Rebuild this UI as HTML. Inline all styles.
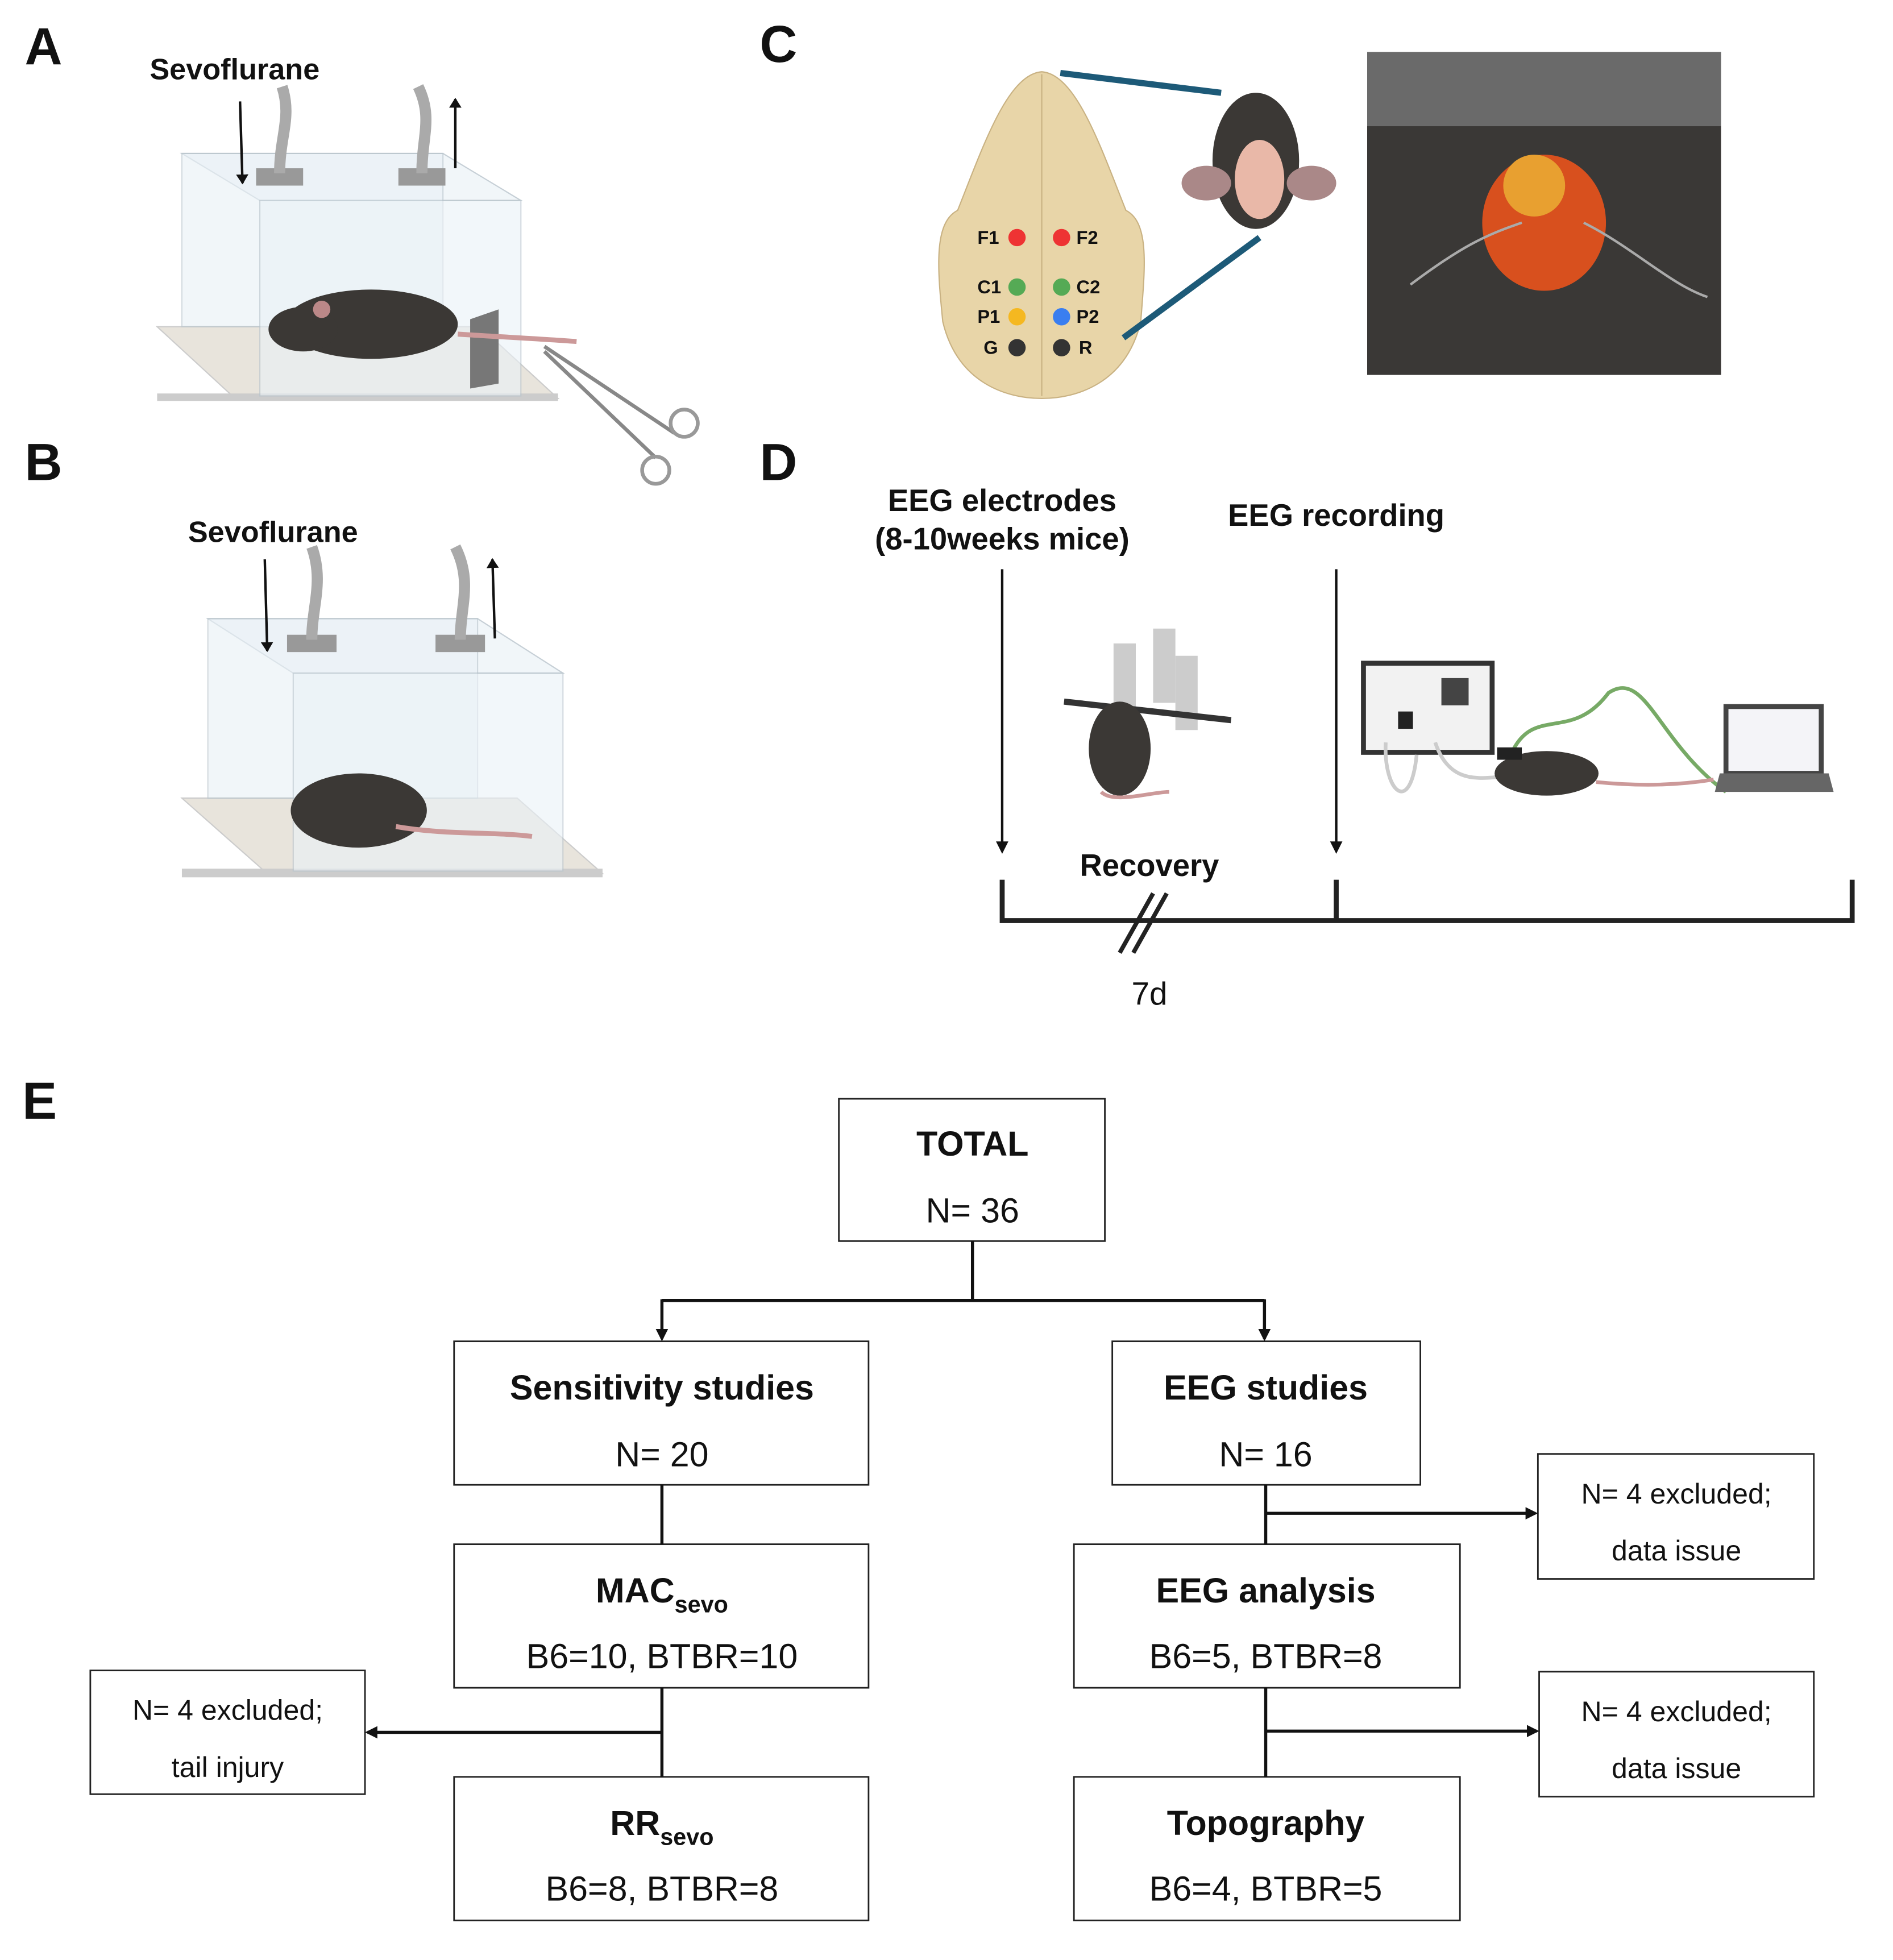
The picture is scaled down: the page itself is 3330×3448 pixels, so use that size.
<!DOCTYPE html>
<html><head><meta charset="utf-8"><style>
html,body{margin:0;padding:0;background:#fff;}
svg{display:block;}
text{font-family:"Liberation Sans",sans-serif;fill:#111;}
.b{font-weight:bold;}
</style></head><body>
<svg width="3330" height="3448" viewBox="0 0 1530 1584" preserveAspectRatio="none" xmlns="http://www.w3.org/2000/svg">
<defs>
<marker id="ar" markerWidth="10" markerHeight="10" refX="8" refY="5" orient="auto" markerUnits="userSpaceOnUse"><path d="M0,0 L10,5 L0,10 z" fill="#111"/></marker>
<marker id="as" markerWidth="8" markerHeight="10" refX="7" refY="5" orient="auto" markerUnits="userSpaceOnUse"><path d="M0,0 L8,5 L0,10 z" fill="#111"/></marker>
</defs>
<rect width="1530" height="1584" fill="#fff"/>
<text x="20" y="52" font-size="42" class="b">A</text>
<text x="20" y="388" font-size="42" class="b">B</text>
<text x="614" y="50" font-size="42" class="b">C</text>
<text x="614" y="388" font-size="42" class="b">D</text>
<text x="18" y="904" font-size="42" class="b">E</text>

<text x="121" y="64" font-size="24" class="b">Sevoflurane</text>
<polygon points="127,264 388,264 451,322 190,322" fill="#e8e4dc" stroke="#ccc"/>
<rect x="127" y="318" width="324" height="6" fill="#ccc"/>
<polygon points="147,124 358,124 421,162 210,162" fill="#eef4f8" stroke="#b8c4cc" opacity="0.8"/>
<rect x="147" y="124" width="211" height="140" fill="#e9f1f6" stroke="#b8c4cc" opacity="0.6"/>
<rect x="210" y="162" width="211" height="158" fill="#eaf2f7" stroke="#b8c4cc" opacity="0.6"/>
<rect x="207" y="136" width="38" height="14" fill="#999"/>
<rect x="322" y="136" width="38" height="14" fill="#999"/>
<path d="M226,140 C226,110 236,95 228,70" stroke="#aaa" stroke-width="9" fill="none"/>
<path d="M341,140 C341,110 350,95 338,70" stroke="#aaa" stroke-width="9" fill="none"/>
<line x1="194" y1="82" x2="196" y2="148" stroke="#111" stroke-width="2" marker-end="url(#as)"/>
<line x1="368" y1="136" x2="368" y2="80" stroke="#111" stroke-width="2" marker-end="url(#as)"/>
<ellipse cx="300" cy="262" rx="70" ry="28" fill="#3b3835"/>
<ellipse cx="245" cy="266" rx="28" ry="18" fill="#3b3835"/>
<circle cx="260" cy="250" r="7" fill="#b88"/>
<polygon points="380,258 403,250 403,310 380,314" fill="#777"/>
<path d="M370,270 C400,272 440,274 466,276" stroke="#c99" stroke-width="4" fill="none"/>
<path d="M440,280 L545,350 M440,284 L530,370" stroke="#888" stroke-width="3"/>
<circle cx="553" cy="342" r="11" fill="none" stroke="#999" stroke-width="3"/>
<circle cx="530" cy="380" r="11" fill="none" stroke="#999" stroke-width="3"/>

<text x="152" y="438" font-size="24" class="b">Sevoflurane</text>
<polygon points="147,645 418,645 487,706 216,706" fill="#e8e4dc" stroke="#ccc"/>
<rect x="147" y="702" width="340" height="7" fill="#ccc"/>
<polygon points="168,500 386,500 455,544 237,544" fill="#eef4f8" stroke="#b8c4cc" opacity="0.8"/>
<rect x="168" y="500" width="218" height="145" fill="#e9f1f6" stroke="#b8c4cc" opacity="0.6"/>
<rect x="237" y="544" width="218" height="160" fill="#eaf2f7" stroke="#b8c4cc" opacity="0.6"/>
<rect x="232" y="513" width="40" height="14" fill="#999"/>
<rect x="352" y="513" width="40" height="14" fill="#999"/>
<path d="M252,517 C252,490 262,470 252,442" stroke="#aaa" stroke-width="9" fill="none"/>
<path d="M372,517 C372,490 382,470 368,442" stroke="#aaa" stroke-width="9" fill="none"/>
<line x1="214" y1="452" x2="216" y2="526" stroke="#111" stroke-width="2" marker-end="url(#as)"/>
<line x1="400" y1="516" x2="398" y2="452" stroke="#111" stroke-width="2" marker-end="url(#as)"/>
<ellipse cx="290" cy="655" rx="55" ry="30" fill="#3b3835"/>
<path d="M320,668 C360,675 400,672 430,676" stroke="#c99" stroke-width="4" fill="none"/>

<path d="M842,58 C870,60 890,120 910,170 C930,180 925,220 922,260 C910,310 870,322 842,322 C814,322 774,310 762,260 C758,220 754,180 774,170 C794,120 814,60 842,58 Z" fill="#e8d5a8" stroke="#c9b283"/>
<line x1="842" y1="60" x2="842" y2="320" stroke="#c9b283"/>
<line x1="857" y1="59" x2="987" y2="75" stroke="#1d5a78" stroke-width="5"/>
<line x1="908" y1="273" x2="1018" y2="192" stroke="#1d5a78" stroke-width="5"/>
<g font-size="15" class="b">
<text x="790" y="197">F1</text><circle cx="822" cy="192" r="7" fill="#e33"/>
<circle cx="858" cy="192" r="7" fill="#e33"/><text x="870" y="197">F2</text>
<text x="790" y="237">C1</text><circle cx="822" cy="232" r="7" fill="#5a5"/>
<circle cx="858" cy="232" r="7" fill="#5a5"/><text x="870" y="237">C2</text>
<text x="790" y="261">P1</text><circle cx="822" cy="256" r="7" fill="#f5b820"/>
<circle cx="858" cy="256" r="7" fill="#3a7ef0"/><text x="870" y="261">P2</text>
<text x="795" y="286">G</text><circle cx="822" cy="281" r="7" fill="#333"/>
<circle cx="858" cy="281" r="7" fill="#333"/><text x="872" y="286">R</text>
</g>
<ellipse cx="1015" cy="130" rx="35" ry="55" fill="#3b3835"/>
<ellipse cx="975" cy="148" rx="20" ry="14" fill="#a88"/>
<ellipse cx="1060" cy="148" rx="20" ry="14" fill="#a88"/>
<ellipse cx="1018" cy="145" rx="20" ry="32" fill="#e9b8a8"/>
<rect x="1105" y="42" width="286" height="261" fill="#3a3836"/>
<rect x="1105" y="42" width="286" height="60" fill="#6a6a6a"/>
<ellipse cx="1248" cy="180" rx="50" ry="55" fill="#d8501e"/>
<ellipse cx="1240" cy="150" rx="25" ry="25" fill="#e8a030"/>
<path d="M1140,230 C1180,200 1200,190 1230,180 M1280,180 C1320,200 1350,230 1380,240" stroke="#aaa" stroke-width="2" fill="none"/>

<text x="810" y="413" font-size="25" class="b" text-anchor="middle">EEG electrodes</text>
<text x="810" y="444" font-size="25" class="b" text-anchor="middle">(8-10weeks mice)</text>
<text x="1080" y="425" font-size="25" class="b" text-anchor="middle">EEG recording</text>
<line x1="810" y1="460" x2="810" y2="688" stroke="#111" stroke-width="2" marker-end="url(#ar)"/>
<line x1="1080" y1="460" x2="1080" y2="688" stroke="#111" stroke-width="2" marker-end="url(#ar)"/>
<text x="929" y="708" font-size="25" class="b" text-anchor="middle">Recovery</text>
<path d="M810,711 V744 H1497 V711 M1080,711 V744" stroke="#222" stroke-width="4" fill="none"/>
<line x1="905" y1="770" x2="932" y2="722" stroke="#222" stroke-width="3.5"/>
<line x1="916" y1="770" x2="943" y2="722" stroke="#222" stroke-width="3.5"/>
<text x="929" y="812" font-size="26" text-anchor="middle" fill="#444">7d</text>
<rect x="900" y="520" width="18" height="60" fill="#ccc"/>
<rect x="932" y="508" width="18" height="60" fill="#ccc"/>
<rect x="950" y="530" width="18" height="60" fill="#ccc"/>
<line x1="860" y1="567" x2="995" y2="582" stroke="#333" stroke-width="5"/>
<ellipse cx="905" cy="605" rx="25" ry="38" fill="#3b3835"/>
<path d="M890,640 C900,650 930,640 945,640" stroke="#c99" stroke-width="3" fill="none"/>
<rect x="1102" y="536" width="104" height="72" fill="#f2f2f2" stroke="#333" stroke-width="4"/>
<rect x="1165" y="548" width="22" height="22" fill="#444"/>
<rect x="1130" y="575" width="12" height="14" fill="#222"/>
<path d="M1120,600 C1118,640 1140,660 1145,610 M1160,600 C1170,630 1190,630 1210,628" stroke="#ccc" stroke-width="3" fill="none"/>
<path d="M1222,608 C1240,570 1270,600 1300,560 C1330,540 1340,600 1395,640" stroke="#7a6" stroke-width="3" fill="none"/>
<ellipse cx="1250" cy="625" rx="42" ry="18" fill="#3b3835"/>
<rect x="1210" y="604" width="20" height="10" fill="#222"/>
<path d="M1290,632 C1330,636 1360,634 1385,630" stroke="#c99" stroke-width="3" fill="none"/>
<rect x="1395" y="571" width="77" height="54" fill="#f4f4f8" stroke="#444" stroke-width="4"/>
<polygon points="1390,625 1478,625 1482,640 1386,640" fill="#666"/>

<g fill="#fff" stroke="#222" stroke-width="1.3">
<rect x="678" y="888" width="215" height="115"/>
<rect x="367" y="1084" width="335" height="116"/>
<rect x="899" y="1084" width="249" height="116"/>
<rect x="1243" y="1175" width="223" height="101"/>
<rect x="367" y="1248" width="335" height="116"/>
<rect x="868" y="1248" width="312" height="116"/>
<rect x="73" y="1350" width="222" height="100"/>
<rect x="1244" y="1351" width="222" height="101"/>
<rect x="367" y="1436" width="335" height="116"/>
<rect x="868" y="1436" width="312" height="116"/>
</g>
<g stroke="#111" stroke-width="2.5" fill="none">
<path d="M786,1003 V1051 M535,1051 H1022"/>
<line x1="535" y1="1050" x2="535" y2="1082" marker-end="url(#ar)"/>
<line x1="1022" y1="1050" x2="1022" y2="1082" marker-end="url(#ar)"/>
<line x1="535" y1="1200" x2="535" y2="1248"/>
<line x1="535" y1="1364" x2="535" y2="1436"/>
<line x1="535" y1="1400" x2="297" y2="1400" marker-end="url(#ar)"/>
<line x1="1023" y1="1200" x2="1023" y2="1248"/>
<line x1="1023" y1="1223" x2="1241" y2="1223" marker-end="url(#ar)"/>
<line x1="1023" y1="1364" x2="1023" y2="1436"/>
<line x1="1023" y1="1399" x2="1242" y2="1399" marker-end="url(#ar)"/>
</g>
<g font-size="28" text-anchor="middle">
<text x="786" y="934" class="b">TOTAL</text>
<text x="786" y="988">N= 36</text>
<text x="535" y="1131" class="b">Sensitivity studies</text>
<text x="535" y="1185">N= 20</text>
<text x="1023" y="1131" class="b">EEG studies</text>
<text x="1023" y="1185">N= 16</text>
<text x="535" y="1295" class="b">MAC<tspan font-size="19" dy="8">sevo</tspan></text>
<text x="535" y="1348">B6=10, BTBR=10</text>
<text x="1023" y="1295" class="b">EEG analysis</text>
<text x="1023" y="1348">B6=5, BTBR=8</text>
<text x="535" y="1483" class="b">RR<tspan font-size="19" dy="8">sevo</tspan></text>
<text x="535" y="1536">B6=8, BTBR=8</text>
<text x="1023" y="1483" class="b">Topography</text>
<text x="1023" y="1536">B6=4, BTBR=5</text>
</g>
<g font-size="23" text-anchor="middle">
<text x="1355" y="1215">N= 4 excluded;</text>
<text x="1355" y="1261">data issue</text>
<text x="1355" y="1391">N= 4 excluded;</text>
<text x="1355" y="1437">data issue</text>
<text x="184" y="1390">N= 4 excluded;</text>
<text x="184" y="1436">tail injury</text>
</g>
</svg>
</body></html>
